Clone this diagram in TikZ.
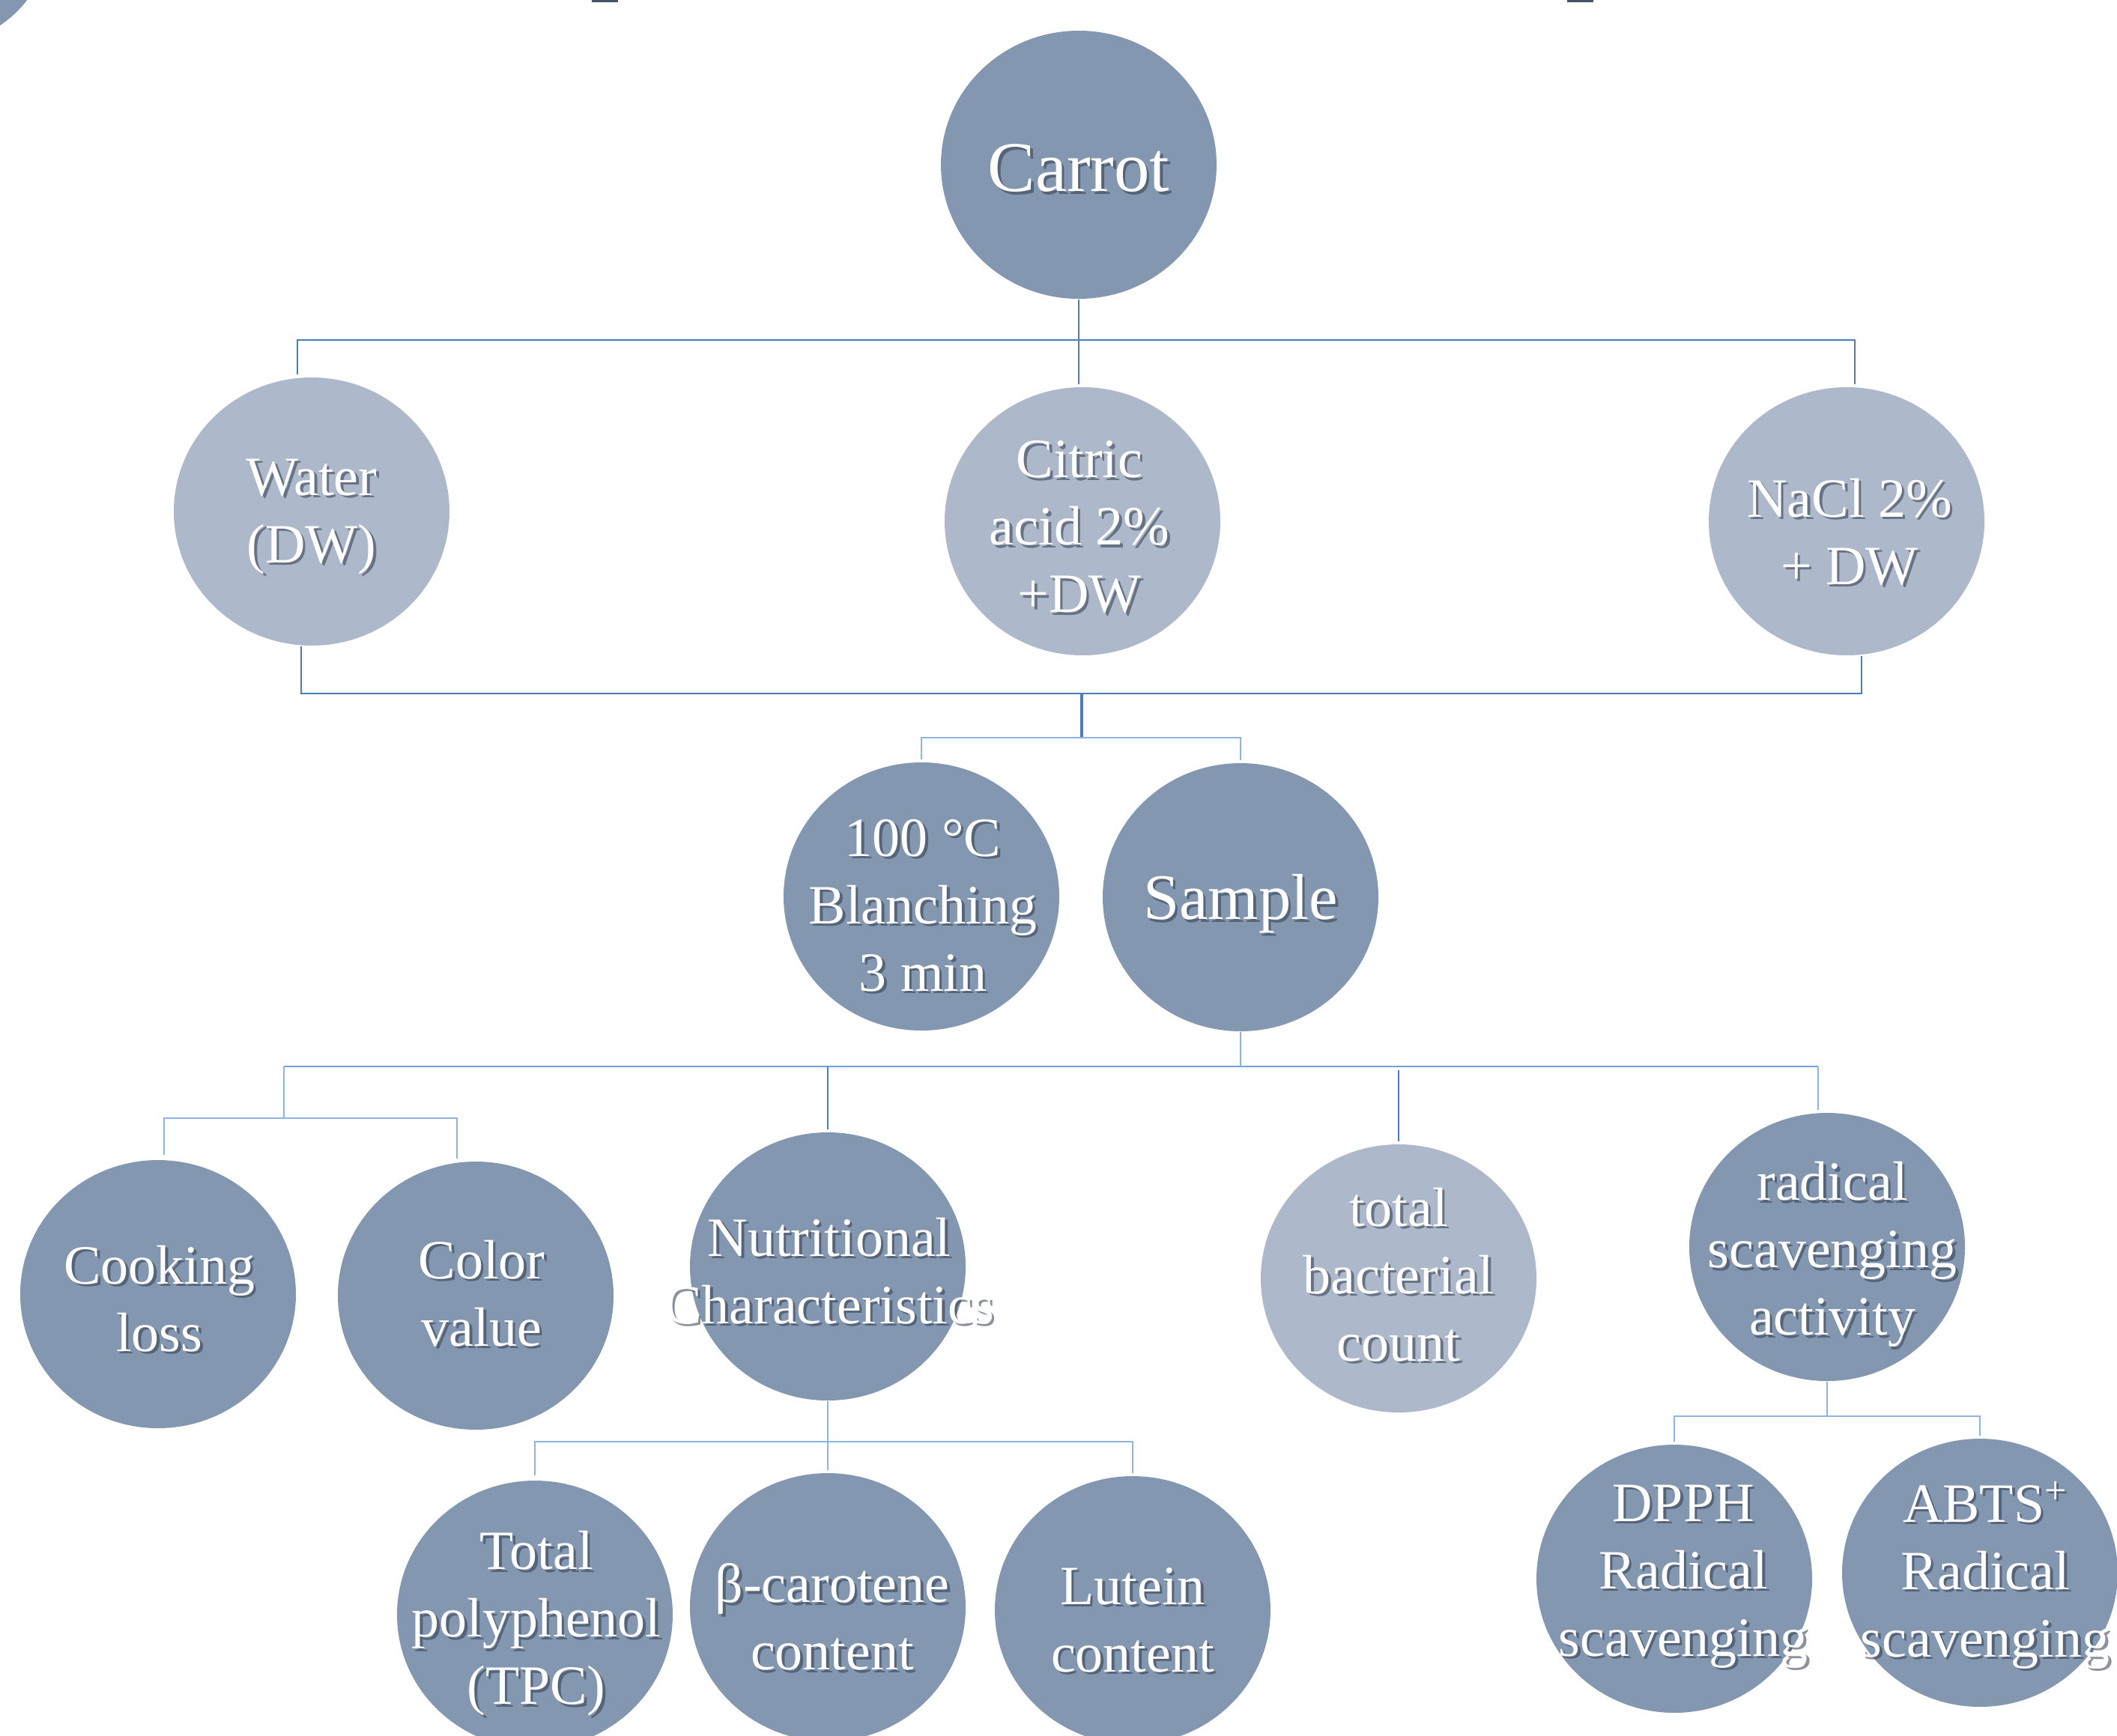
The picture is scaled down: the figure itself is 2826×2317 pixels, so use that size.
\documentclass[tikz,border=0pt]{standalone}
\usepackage{fontspec}
\setmainfont{Liberation Serif}
\usetikzlibrary{shapes.geometric}
\definecolor{darkc}{HTML}{8497B0}
\definecolor{lightc}{HTML}{ADB9CA}
\definecolor{linec}{HTML}{4A7EBB}
\definecolor{thinc}{HTML}{8DB4E2}
\definecolor{busc}{HTML}{6FA3DC}
\definecolor{shadc}{HTML}{2F3B4C}
\definecolor{markc}{HTML}{44546A}
\tikzset{
  blobshape/.style={ellipse, inner sep=0pt, minimum width=110.4pt, minimum height=107.4pt, draw=none},
  blobtxt/.style={align=center, inner sep=0pt, text=white},
  blobshadow/.style={align=center, inner sep=0pt, text=shadc, opacity=0.55},
  normfont/.style={font=\fontsize{22.2}{27}\selectfont},
  bigfont/.style={font=\fontsize{28.5}{32}\selectfont},
  midfont/.style={font=\fontsize{26}{30}\selectfont},
  mainline/.style={draw=linec, line width=0.65pt},
  heavyline/.style={draw=linec, line width=1.2pt},
  lightline/.style={draw=thinc, line width=0.5pt},
  busline/.style={draw=busc, line width=0.5pt}
}
% name, position, fill, font style, text, text offset x (px), text offset y (px, down)
\newcommand\blob[7]{%
  \node[blobshape, fill=#3] (#1) at (#2) {};
  \node[blobshadow, #4] at ([shift={({#6+3.5},{#7+3.5})}]#1.center) {#5};
  \node[blobtxt, #4] (#1-t) at ([shift={(#6,#7)}]#1.center) {#5};
}
\begin{document}
\begin{tikzpicture}[x=0.3pt, y=-0.3pt]
\useasboundingbox (0,0) rectangle (2826,2317);
\fill[white] (0,0) rectangle (2826,2317);

% corner fragment and top marks
\fill[darkc] (0,0) -- (36,0) .. controls (28,12) and (12,26) .. (0,34) -- cycle;
\fill[markc] (790,0) rectangle (825,3);
\fill[markc] (2092,0) rectangle (2127,3);

% nodes
\blob{carrot}{1440,220}{darkc}{bigfont}{Carrot}{0}{5}
\blob{water}{416,683}{lightc}{normfont}{Water\\(DW)}{0}{7}
\blob{citric}{1445,696}{lightc}{normfont}{Citric\\acid 2\%\\+DW}{-4}{8}
\blob{nacl}{2465,696}{lightc}{normfont}{NaCl 2\%\\+ DW}{4}{14}
\blob{blanch}{1230,1197}{darkc}{normfont}{100 °C\\Blanching\\3 min}{2}{12}
\blob{sample}{1656,1198}{darkc}{midfont}{Sample}{0}{9}
\blob{cook}{211,1728}{darkc}{normfont}{Cooking\\loss}{2}{6}
\blob{color}{635,1730}{darkc}{normfont}{Color\\value}{8}{-3}
\blob{nutr}{1105,1691}{darkc}{normfont}{Nutritional\\Characteristics}{2}{6}
\blob{bact}{1867,1707}{lightc}{normfont}{total\\bacterial\\count}{0}{-5}
\blob{radical}{2439,1665}{darkc}{normfont}{radical\\scavenging\\activity}{7}{10}
\blob{tpc}{714,2156}{darkc}{normfont}{Total\\polyphenol\\(TPC)}{2}{12}
\blob{beta}{1105,2146}{darkc}{normfont}{β-carotene\\content}{6}{13}
\blob{lutein}{1512,2150}{darkc}{normfont}{Lutein\\content}{0}{13}
\blob{dpph}{2235,2108}{darkc}{normfont}{DPPH\\Radical\\scavenging}{12}{-3}
\blob{abts}{2643,2100}{darkc}{normfont}{ABTS\textsuperscript{+}\\Radical\\scavenging}{7}{3}

% level 1 connectors
\coordinate (t1) at (397,454);
\coordinate (t2) at (2476,454);
\draw[mainline] (carrot.south) -- (carrot.south |- t1);
\draw[mainline] ([yshift=1pt]water.north -| t1) -- (t1) -- (t2) -- ([yshift=1pt]nacl.north -| t2);
\draw[mainline] (carrot.south |- t1) -- ([yshift=1pt]citric.north -| carrot.south);

% level 2 connectors
\coordinate (m1) at (402,926);
\coordinate (m2) at (2485,926);
\coordinate (m3) at (1444,926);
\coordinate (m4) at (1444,985);
\draw[mainline] (water.south -| m1) -- (m1) -- (m2) -- (nacl.south -| m2);
\draw[heavyline] (m3) -- (m4);
\draw[lightline] ([yshift=1pt]blanch.north) |- (m4) -| ([yshift=1pt]sample.north);

% level 3 connectors
\coordinate (s1) at (379,1424);
\coordinate (s2) at (2427,1424);
\coordinate (c1) at (379,1493);
\draw[lightline] (sample.south) -- (sample.south |- s1);
\draw[busline] (s1) -- (s2);
\draw[lightline] (s2) -- ([yshift=1pt]radical.north -| s2);
\draw[lightline] (s1) -- (c1);
\draw[lightline] ([yshift=2pt]cook.north -| 219,0) |- (c1) -| ([yshift=1pt]color.north -| 610,0);
\draw[mainline] (nutr.north |- s1) -- ([yshift=1pt]nutr.north);
\draw[mainline] ([yshift=-1.5pt]bact.north |- s1) -- ([yshift=1pt]bact.north);

% nutritional children
\coordinate (n1) at (1105,1925);
\draw[lightline] (nutr.south) -- (n1);
\draw[lightline] ([yshift=2pt]tpc.north) |- (n1) -| ([yshift=1pt]lutein.north);
\draw[lightline] (n1) -- ([yshift=1pt]beta.north);

% radical children
\coordinate (r1) at (2439,1891);
\draw[lightline] (radical.south) -- (r1);
\draw[lightline] ([yshift=1pt]dpph.north) |- (r1) -| ([yshift=1pt]abts.north);
\end{tikzpicture}
\end{document}
